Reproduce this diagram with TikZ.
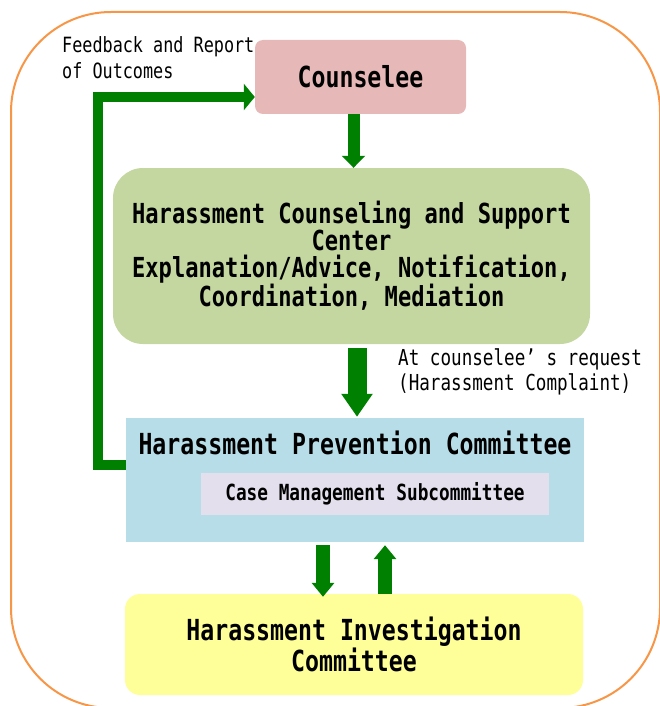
\documentclass[tikz,border=0pt]{standalone}
\usepackage{fontspec}
\usepackage{xcolor}
\usetikzlibrary{shapes,arrows,arrows.meta,positioning,calc}
\newfontfamily\gothic[FakeStretch=0.8]{DejaVu Sans Mono}
\definecolor{framegold}{RGB}{247,150,70}
\definecolor{boxpink}{RGB}{230,184,183}
\definecolor{boxgreen}{RGB}{196,215,160}
\definecolor{boxblue}{RGB}{183,222,232}
\definecolor{boxlilac}{RGB}{228,223,236}
\definecolor{boxyellow}{RGB}{255,255,153}
\definecolor{flowgreen}{RGB}{0,128,0}

\begin{document}
\begin{tikzpicture}[x=1pt, y=-1pt,
    unit/.style={inner sep=0pt, align=center, font=\gothic\bfseries\fontsize{29}{29}\selectfont},
    flow/.style={draw=flowgreen, line width=#1},
    flow/.default=12pt]
    \useasboundingbox (0,0) rectangle (660,706);
    \begin{scope}
        \clip (0,0) rectangle (660,706);
        \draw[framegold, line width=2pt, rounded corners=100pt] (11,12) rectangle (660,708);
    \end{scope}

    \node[unit, fill=boxpink, rounded corners=8pt, minimum width=211pt, minimum height=74pt] (cns) at (360.5,77) {Counselee};
    \node[unit, fill=boxgreen, rounded corners=30pt, minimum width=477pt, minimum height=176pt,
          font=\gothic\bfseries\fontsize{27.6}{26.7}\selectfont] (hcs) at (351.5,256)
        {Harassment Counseling and Support\\Center\\Explanation/Advice, Notification,\\Coordination, Mediation};
    \node[fill=boxblue, inner sep=0pt, minimum width=458pt, minimum height=124pt] (hpc) at (355,480) {};
    \node[unit] (hpct) at (355,443) {Harassment Prevention Committee};
    \node[unit, fill=boxlilac, minimum width=348pt, minimum height=42pt,
          font=\gothic\bfseries\fontsize{22.2}{24}\selectfont] (cms) at (375,494) {Case Management Subcommittee};
    \node[unit, fill=boxyellow, rounded corners=15pt, minimum width=458pt, minimum height=101pt] (hic) at (354,644.5)
        {Harassment Investigation\\Committee};

    \node[anchor=west, inner sep=0pt, align=left, font=\gothic\fontsize{21}{26}\selectfont] (fbk) at (62,58)
        {Feedback and Report\\of Outcomes};
    \node[anchor=west, inner sep=0pt, align=left, font=\gothic\fontsize{22}{25}\selectfont] (req) at (398,372)
        {At counselee’ s request\\(Harassment Complaint)};
    \coordinate (fbtop) at (98,97);

    % flow between the units
    \draw[flow, -{Triangle[length=12pt,width=23pt]}] ([xshift=-7pt]cns.south) -- ([xshift=-7pt]cns.south |- hcs.north);
    \draw[flow=19pt, -{Triangle[length=23pt,width=30pt]}, shorten >=5pt] ([xshift=5.5pt,yshift=-4pt]hcs.south) -- ([xshift=5.5pt,yshift=-4pt]hcs.south |- hpc.north);
    \draw[flow=14pt, -{Triangle[length=14pt,width=22pt]}] ([xshift=-32pt,yshift=-3pt]hpc.south) -- ([xshift=-32pt,yshift=-3pt]hpc.south |- hic.north);
    \draw[flow=14pt, -{Triangle[length=14pt,width=22pt]}] ([xshift=30pt]hpc.south |- hic.north) -- ([xshift=30pt,yshift=-3pt]hpc.south);

    % feedback loop
    \draw[flow=10pt, -{Triangle[length=11pt,width=26pt]}] ([yshift=15pt]hpc.west) -| (fbtop) -- (cns.west |- fbtop);
\end{tikzpicture}
\end{document}
